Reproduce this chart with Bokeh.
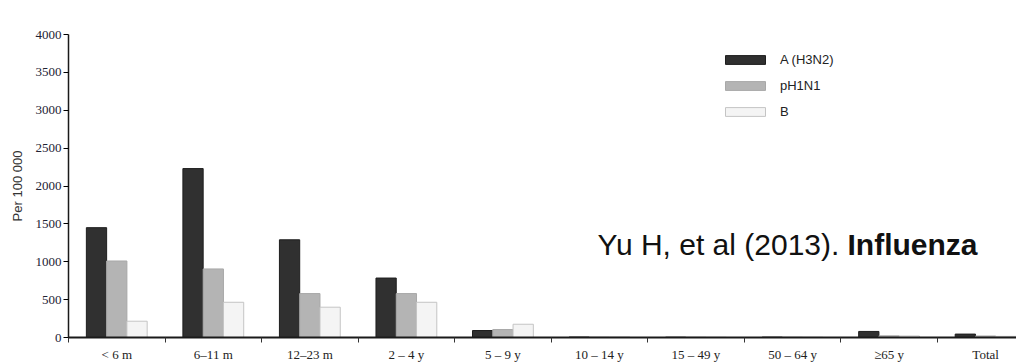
from bokeh.plotting import figure
from bokeh.models import Range1d, FixedTicker, ColumnDataSource, Label, Legend, LegendItem
from bokeh.embed import file_html
from bokeh.resources import INLINE

# ---- data ----
age_groups = ["< 6 m", "6–11 m", "12–23 m", "2 – 4 y", "5 – 9 y",
              "10 – 14 y", "15 – 49 y", "50 – 64 y", "≥65 y", "Total"]
h3n2 = [1450, 2230, 1290, 785, 92, 6, 4, 5, 80, 45]
ph1n1 = [1010, 905, 580, 580, 105, 5, 4, 4, 22, 20]
flu_b = [215, 465, 400, 465, 175, 6, 3, 3, 20, 15]
y_ticks = [0, 500, 1000, 1500, 2000, 2500, 3000, 3500, 4000]
series_names = ["A (H3N2)", "pH1N1", "B"]

n = len(age_groups)
centers = [i + 0.5 for i in range(n)]
bounds = [float(i) for i in range(n + 1)]
bw = 0.21

p = figure(width=1016, height=364, output_backend="svg", toolbar_location=None,
           x_range=Range1d(0, 9.82), y_range=Range1d(0, 4000),
           min_border_left=68, min_border_right=0, min_border_top=34, min_border_bottom=26)
p.outline_line_color = None
p.xgrid.grid_line_color = None
p.ygrid.grid_line_color = None
p.background_fill_color = "white"

src = ColumnDataSource(dict(
    xa=[c - bw for c in centers], xp=centers, xb=[c + bw for c in centers],
    a=h3n2, ph=ph1n1, b=flu_b))

ra = p.vbar(x="xa", top="a", width=bw, source=src, fill_color="#303030", line_color="#1e1e1e", line_width=1)
rp = p.vbar(x="xp", top="ph", width=bw, source=src, fill_color="#b4b4b4", line_color="#a8a8a8", line_width=1)
rb = p.vbar(x="xb", top="b", width=bw, source=src, fill_color="#f4f4f4", line_color="#c4c4c4", line_width=1)

# x axis
xa = p.xaxis[0]
xa.ticker = FixedTicker(ticks=centers, minor_ticks=bounds)
xa.major_label_overrides = {c: lab for c, lab in zip(centers, age_groups)}
xa.major_tick_out = 0
xa.major_tick_in = 0
xa.minor_tick_out = 5
xa.minor_tick_in = 0
xa.minor_tick_line_color = "#333333"
xa.axis_line_width = 2
xa.axis_line_color = "#1a1a1a"
xa.major_label_text_font = "Liberation Serif"
xa.major_label_text_font_size = "13px"
xa.major_label_text_line_height = 1.0
xa.major_label_text_color = "#222222"
xa.major_label_standoff = 4

# y axis
ya = p.yaxis[0]
ya.ticker = FixedTicker(ticks=y_ticks)
ya.minor_tick_line_color = None
ya.major_tick_out = 5
ya.major_tick_in = 0
ya.axis_line_width = 1.5
ya.axis_line_color = "#1a1a1a"
ya.major_label_text_font = "Liberation Serif"
ya.major_label_text_font_size = "13px"
ya.major_label_text_color = "#222233"
ya.major_label_standoff = 2
ya.axis_label = "Per 100 000"
ya.axis_label_text_font = "Liberation Sans"
ya.axis_label_text_font_style = "normal"
ya.axis_label_text_font_size = "13px"
ya.axis_label_text_color = "#333333"
ya.axis_label_standoff = 8

legend = Legend(items=[LegendItem(label=series_names[0], renderers=[ra]),
                       LegendItem(label=series_names[1], renderers=[rp]),
                       LegendItem(label=series_names[2], renderers=[rb])],
                location=(652, 218), glyph_width=50, glyph_height=11, spacing=11,
                label_standoff=10, padding=0, margin=0, border_line_color=None,
                background_fill_alpha=0, label_text_font="Liberation Sans",
                label_text_font_size="13px", label_text_color="#222222")
p.add_layout(legend)

cite1 = Label(x=5.48, y=1224, text="Yu H, et al (2013). ", text_font="Liberation Sans",
              text_font_size="30px", text_color="#111111", text_baseline="alphabetic")
cite2 = Label(x=5.48, y=1224, x_offset=250, text="Influenza",
              text_font="Liberation Sans", text_font_style="bold",
              text_font_size="30px", text_color="#111111", text_baseline="alphabetic")
p.add_layout(cite1)
p.add_layout(cite2)

open("out.html", "w").write(file_html(p, INLINE))
